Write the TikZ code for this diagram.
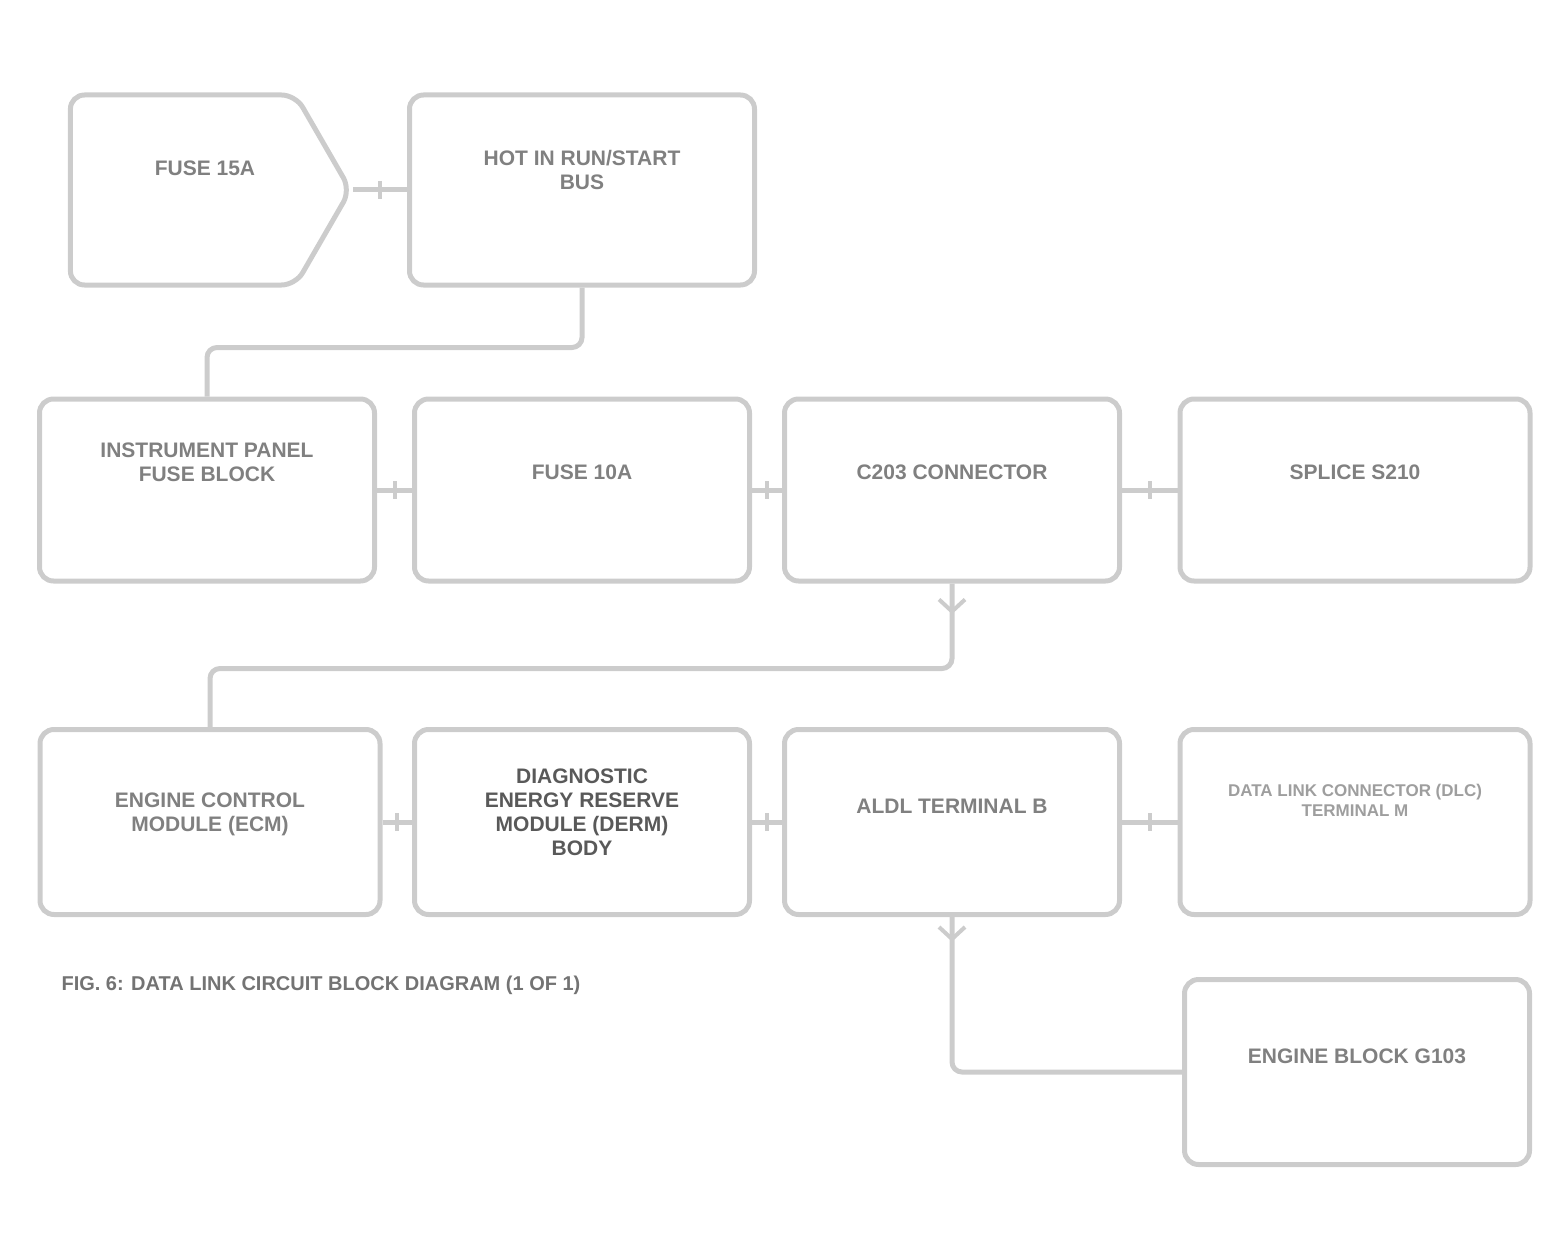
\documentclass[tikz,border=0pt]{standalone}
\usepackage{fontspec}
\setmainfont{Liberation Sans}
\usepackage{tikz}
\usetikzlibrary{shapes.symbols, arrows.meta, decorations.markings}
\tikzset{
  -|-/.style={
    postaction = {decorate},
    decoration = {
      markings,
      mark = at position #1 with {
        \draw[line width=4pt] (0,-9) -- (0,9);
      }
    }
  },
  -|-/.default = 0.5
}
\tikzset{
  -v-/.style={
    postaction = {decorate},
    decoration = {
      markings,
      mark = at position #1 with {
        \arrow{Straight Barb[length=12pt, width=26pt, line width=4pt]}
      }
    }
  },
  -v-/.default = 0.5
}
\tikzset{
  blk/.style={draw=black!20, line width=5pt, rounded corners=14pt, rectangle,
    minimum width=335, minimum height=182, inner sep=0pt},
  txt/.style={text=black!50, font=\bfseries\fontsize{21}{24}\selectfont, align=center},
  wire/.style={draw=black!20, line width=5pt}
}

\begin{document}
\begin{tikzpicture}[x=1pt, y=-1pt]
\useasboundingbox (0,0) rectangle (1565,1241);
\newcommand\RowA{190}
\newcommand\RowB{490}
\newcommand\RowC{822}
\node[blk, signal, signal to=east, signal pointer angle=120, minimum width=280, minimum height=190,
  label={[txt, yshift=22pt, xshift=22pt]center:FUSE 15A}] (Fuse) at (183,\RowA) {};
\node[blk, minimum width=345, minimum height=190,
  label={[txt, yshift=20pt]center:HOT IN RUN/START\\BUS}] (Ign) at (582,\RowA) {};

\node[blk, label={[txt, yshift=28pt]center:INSTRUMENT PANEL\\FUSE BLOCK}] (Ipfb) at (207,\RowB) {};
\node[blk, label={[txt, yshift=18pt]center:FUSE 10A}] (Fz) at (582,\RowB) {};
\node[blk, label={[txt, yshift=18pt]center:C203 CONNECTOR}] (Cip) at (952,\RowB) {};
\node[blk, minimum width=350, label={[txt, yshift=18pt]center:SPLICE S210}] (Spl) at (1355,\RowB) {};

\node[blk, minimum width=340, minimum height=185,
  label={[txt, yshift=8pt]center:ENGINE CONTROL\\MODULE (ECM)}] (Ecm) at (210,\RowC) {};
\node[blk, minimum height=185,
  label={[txt, text=black!65, yshift=10pt]center:DIAGNOSTIC\\ENERGY RESERVE\\MODULE (DERM)\\BODY}] (Derm) at (582,\RowC) {};
\node[blk, minimum height=185, label={[txt, yshift=16pt]center:ALDL TERMINAL B}] (Aldl) at (952,\RowC) {};
\node[blk, minimum width=350, minimum height=185,
  label={[txt, text=black!38, yshift=22pt, font=\bfseries\fontsize{17}{20}\selectfont]center:DATA LINK CONNECTOR (DLC)\\TERMINAL M}] (Dlc) at (1355,\RowC) {};
\node[blk, minimum width=345, minimum height=185, label={[txt, yshift=16pt]center:ENGINE BLOCK G103}] (Gnd) at (1357,1072) {};

\node[txt, text=black!55, anchor=west, font=\bfseries\fontsize{20}{22}\selectfont] (Cap) at (58,985)
  {FIG. 6: DATA LINK CIRCUIT BLOCK DIAGRAM (1 OF 1)};

% row links
\path[wire] (Fuse.east) edge[-|-] (Ign.west)
      (Ipfb) edge[-|-] (Fz)
      (Fz)   edge[-|-] (Cip)
      (Cip)  edge[-|-] (Spl)
      (Ecm)  edge[-|-] (Derm)
      (Derm) edge[-|-] (Aldl)
      (Aldl) edge[-|-] (Dlc);

% feeds down
\draw[wire, rounded corners=10pt] (Ign.south) -- ++(0,60) -| (Ipfb.north);
\draw[wire, rounded corners=10pt, -v-=0.035] (Cip.south) -- ++(0,85) -| (Ecm.north);
\draw[wire, rounded corners=10pt, -v-=0.065] (Aldl.south) |- (Gnd.west);
\end{tikzpicture}
\end{document}
